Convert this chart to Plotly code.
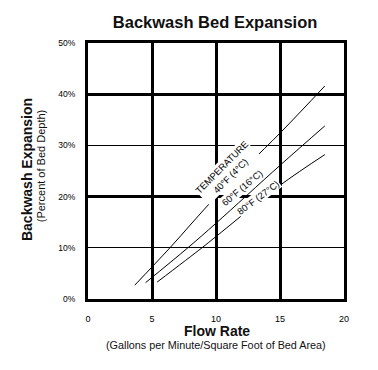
import plotly.graph_objects as go

# Data
flow_40 = [3.65, 6.4, 10.0, 15.0, 18.5]
exp_40 = [2.7, 10.0, 20.0, 32.4, 41.6]
flow_60 = [4.5, 7.8, 10.0, 15.0, 18.5]
exp_60 = [3.2, 10.0, 14.8, 26.1, 33.8]
flow_80 = [5.4, 8.9, 10.0, 15.0, 18.5]
exp_80 = [3.3, 10.0, 12.2, 22.2, 28.2]

x_ticks = [0, 5, 10, 15, 20]
y_ticks = [0, 10, 20, 30, 40, 50]
y_tick_labels = ["0%", "10%", "20%", "30%", "40%", "50%"]
y_major = [20, 40]

FONT = "Liberation Sans, Arial, Helvetica, sans-serif"

fig = go.Figure()
for xs, ys, name in [(flow_40, exp_40, "40°F"), (flow_60, exp_60, "60°F"), (flow_80, exp_80, "80°F")]:
    fig.add_trace(go.Scatter(x=xs, y=ys, mode="lines", name=name,
                             line=dict(color="black", width=1), line_shape="spline",
                             hoverinfo="skip"))
# invisible trace to carry the overlay axis with thick grid lines
fig.add_trace(go.Scatter(x=[None], y=[None], yaxis="y2", showlegend=False, hoverinfo="skip"))

fig.update_layout(
    width=378, height=370,
    margin=dict(l=88, r=34, t=43, b=71),
    paper_bgcolor="white", plot_bgcolor="white",
    showlegend=False,
    font=dict(family=FONT, color="black"),
    title=dict(text="<b>Backwash Bed Expansion</b>", xref="container", x=0.569,
               xanchor="center", y=1 - 22 / 370, yanchor="middle",
               font=dict(size=16.5, color="#111", family=FONT)),
    xaxis=dict(range=[0, 20], tickvals=x_ticks, showgrid=True, gridcolor="black",
               gridwidth=3, zeroline=False, showline=True, mirror=True,
               linecolor="black", linewidth=3, ticks="", ticklabelstandoff=9,
               tickfont=dict(size=9, family=FONT)),
    yaxis=dict(range=[0, 50], tickvals=y_ticks, ticktext=y_tick_labels,
               showgrid=True, gridcolor="black", gridwidth=1.2, zeroline=False,
               showline=True, mirror=True, linecolor="black", linewidth=3,
               ticks="", ticklabelstandoff=8, tickfont=dict(size=8.5, family=FONT)),
    yaxis2=dict(range=[0, 50], overlaying="y", tickvals=y_major, showgrid=True,
                gridcolor="black", gridwidth=3, showticklabels=False,
                zeroline=False, showline=False),
)

annos = [
    dict(text="<b>Flow Rate</b>", x=0.502, y=-0.126, size=14),
    dict(text="(Gallons per Minute/Square Foot of Bed Area)", x=0.5, y=-0.178, size=10.8),
    dict(text="<b>Backwash Expansion</b>", x=-0.236, y=0.506, size=14, angle=-90),
    dict(text="(Percent of Bed Depth)", x=-0.185, y=0.521, size=11, angle=-90),
]
for a in annos:
    fig.add_annotation(text=a["text"], xref="paper", yref="paper", x=a["x"], y=a["y"],
                       xanchor="center", yanchor="middle", showarrow=False,
                       textangle=a.get("angle", 0),
                       font=dict(size=a["size"], family=FONT, color="#111"))

labels = [
    ("TEMPERATURE<br>40°F (4°C)", 10.77, 24.9, -45),
    ("60°F (16°C)", 12.05, 21.8, -40),
    ("80°F (27°C)", 13.28, 19.9, -37),
]
for text, lx, ly, ang in labels:
    fig.add_annotation(text=text, x=lx, y=ly, xref="x", yref="y", showarrow=False,
                       textangle=ang, bgcolor="white", borderpad=0,
                       font=dict(size=9.4, family=FONT, color="black"))

fig.write_html("out.html", config={"displayModeBar": False},
               post_script="document.body.style.margin='0';")
